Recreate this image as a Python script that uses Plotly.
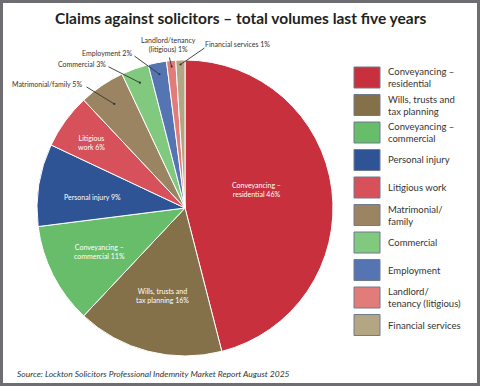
import math
import plotly.graph_objects as go

# ---- data ----
categories = ["Conveyancing – residential", "Wills, trusts and tax planning",
              "Conveyancing – commercial", "Personal injury", "Litigious work",
              "Matrimonial/family", "Commercial", "Employment",
              "Landlord/tenancy (litigious)", "Financial services"]
values = [46, 16, 11, 9, 6, 5, 3, 2, 1, 1]
legend_labels = ["Conveyancing –<br>residential", "Wills, trusts and<br>tax planning",
                 "Conveyancing –<br>commercial", "Personal injury", "Litigious work",
                 "Matrimonial/<br>family", "Commercial", "Employment",
                 "Landlord/<br>tenancy (litigious)", "Financial services"]
slice_labels = ["Conveyancing –<br>residential 46%", "Wills, trusts and<br>tax planning 16%",
                "Conveyancing –<br>commercial 11%", "Personal injury 9%", "Litigious<br>work 6%",
                "Matrimonial/family 5%", "Commercial 3%", "Employment 2%",
                "Landlord/tenancy<br>(litigious) 1%", "Financial services 1%"]
colors = ["#c9303e", "#857149", "#68bd6b", "#2e5496", "#d6515a",
          "#9a8461", "#80c97e", "#5574b2", "#e27c7b", "#b4a683"]

W, H = 480, 386
CX, CY, R = 185, 208, 148  # pie centre / radius in px

FONT = "Lato"

def px(x, y):
    return x / W, 1 - y / H

fig = go.Figure(go.Pie(
    labels=categories, values=values, sort=False, direction="clockwise",
    marker=dict(colors=colors, line=dict(color="white", width=1)),
    textinfo="none", hoverinfo="label+percent", showlegend=False,
    domain=dict(x=[(CX - R) / W, (CX + R) / W], y=[1 - (CY + R) / H, 1 - (CY - R) / H]),
))

total = sum(values)
mids = []
acc = 0
for v in values:
    mids.append((acc + v / 2) / total * 360)
    acc += v

def polar(theta, rf):
    t = math.radians(theta)
    return CX + rf * R * math.sin(t), CY - rf * R * math.cos(t)

annotations = []
# inside labels: (index, radius fraction, angle offset)
inside = {0: (0.50, -7), 1: (0.61, 0), 2: (0.65, 0), 3: (0.63, -2), 4: (0.77, -1)}
for i, (rf, off) in inside.items():
    x, y = polar(mids[i] + off, rf)
    xp, yp = px(x, y)
    annotations.append(dict(x=xp, y=yp, xref="paper", yref="paper", text=slice_labels[i],
                            showarrow=False, font=dict(family=FONT, size=7, color="white"),
                            align="center", xanchor="center", yanchor="middle"))

# outside labels: index -> (text px x, text px y, line start px, dot radius frac)
outside = {
    5: (47, 84, (85, 86), 0.85),
    6: (82, 64, (107, 66), 0.90),
    7: (107, 53, (133, 55), 0.92),
    8: (168, 45, (169, 56), 0.96),
    9: (237, 44, (206, 47), 0.97),
}
for i, (tx, ty, (lx, ly), rf) in outside.items():
    xp, yp = px(tx, ty)
    annotations.append(dict(x=xp, y=yp, xref="paper", yref="paper", text=slice_labels[i],
                            showarrow=False, font=dict(family=FONT, size=7, color="#333333"),
                            align="center", xanchor="center", yanchor="middle"))
    dx, dy = polar(mids[i], rf)
    hx, hy = px(dx, dy)
    annotations.append(dict(x=hx, y=hy, xref="paper", yref="paper", ax=lx - dx, ay=ly - dy,
                            axref="pixel", ayref="pixel", text="", showarrow=True,
                            arrowhead=6, arrowsize=0.6, arrowwidth=0.9, arrowcolor="#333333",
                            standoff=0, startstandoff=0))

shapes = []
# legend
for i, lab in enumerate(legend_labels):
    top = 67 + i * 27.5
    x0, y0 = px(354, top)
    x1, y1 = px(380, top + 21)
    shapes.append(dict(type="rect", xref="paper", yref="paper", x0=x0, y0=y1, x1=x1, y1=y0,
                       fillcolor=colors[i], line=dict(color="#6f7b8f", width=1)))
    tx, ty = px(386, top + 10.5)
    annotations.append(dict(x=tx, y=ty, xref="paper", yref="paper", text=lab, showarrow=False,
                            xanchor="left", yanchor="middle", align="left",
                            font=dict(family=FONT, size=9.5, color="#333333")))

# title and source
tx, ty = px(240, 18)
annotations.append(dict(x=tx, y=ty, xref="paper", yref="paper",
                        text="<b>Claims against solicitors – total volumes last five years</b>",
                        showarrow=False, xanchor="center", yanchor="middle",
                        font=dict(family=FONT, size=15.5, color="#231f20")))
sx, sy = px(15, 374)
annotations.append(dict(x=sx, y=sy, xref="paper", yref="paper",
                        text="<i>Source: Lockton Solicitors Professional Indemnity Market Report August 2025</i>",
                        showarrow=False, xanchor="left", yanchor="middle",
                        font=dict(family=FONT, size=8.5, color="#333333")))

# outer frame
shapes.append(dict(type="rect", xref="paper", yref="paper", x0=1.5 / W, y0=1.5 / H,
                   x1=1 - 1.5 / W, y1=1 - 1.5 / H, line=dict(color="#6d6d72", width=3)))

fig.update_layout(width=W, height=H, margin=dict(l=0, r=0, t=0, b=0),
                  paper_bgcolor="white", plot_bgcolor="white",
                  annotations=annotations, shapes=shapes)
fig.write_html("out.html", config={"displayModeBar": False},
               post_script="document.body.style.margin='0';")
